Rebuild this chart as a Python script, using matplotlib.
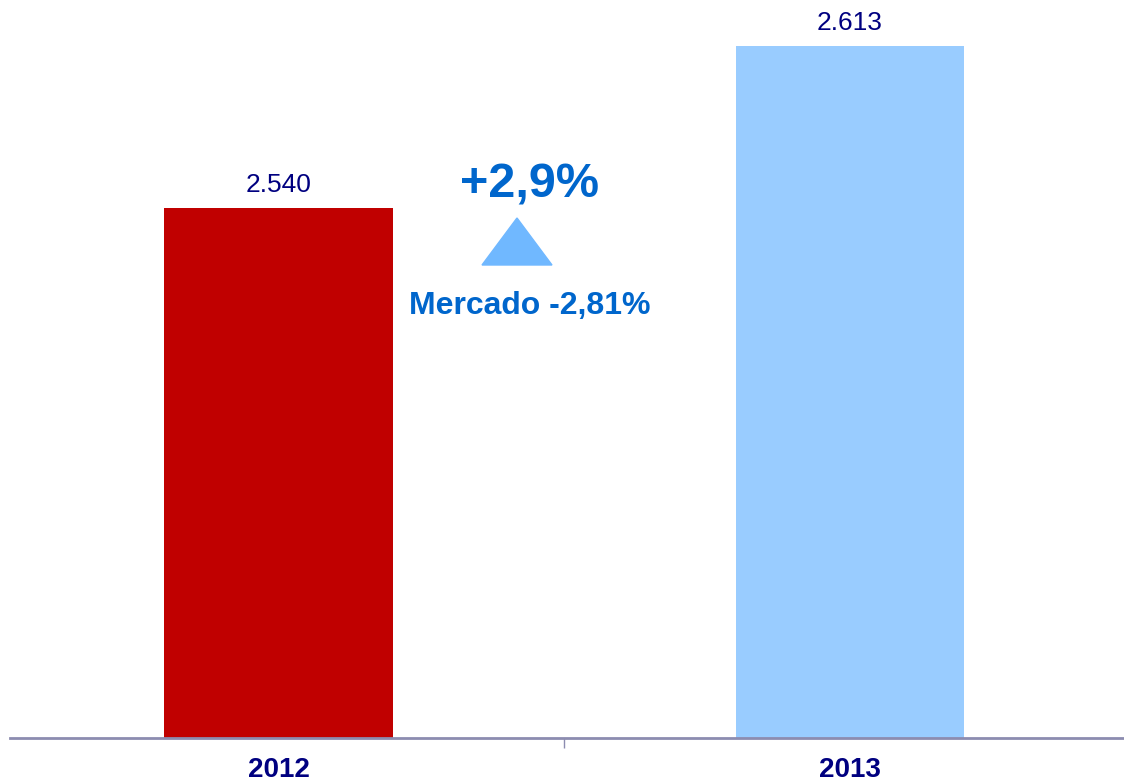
import matplotlib
matplotlib.use('Agg')
import matplotlib.pyplot as plt
from matplotlib.patches import Polygon


# data
years  = ['2012', '2013']
values = [2540, 2613]
growth = '+2,9%'
market = 'Mercado -2,81%'

# colours
bar_colors = ['#C00000', '#99CCFF']
navy       = '#000080'
blue_txt   = '#0066CC'
tri_color  = '#70B8FF'
axis_color = '#8C8CB0'

plt.rcParams['font.family'] = ['Liberation Sans', 'DejaVu Sans']

fig = plt.figure(figsize=(11.24, 7.82), dpi=100)
ax = fig.add_axes([10 / 1124, 44 / 782, 1 - 10 / 1124, 1 - 44 / 782])

pos = list(range(len(years)))
bars = ax.bar(pos, values, width=0.4, color=bar_colors, zorder=2)
ax.bar_label(bars, labels=[f'{v:,}'.replace(',', '.') for v in values],
             padding=8, fontsize=19, color=navy)

ax.set_ylim(2300, 2634)
ax.set_xlim(-0.47, 1.48)

for s in ['top', 'right', 'left']:
    ax.spines[s].set_visible(False)
ax.spines['bottom'].set_color(axis_color)
ax.spines['bottom'].set_linewidth(2)
ax.set_yticks([])

ax.set_xticks(pos)
ax.set_xticklabels(years, fontsize=20, fontweight='bold', color=navy,
                   family=['Liberation Sans Narrow', 'Liberation Sans'])
ax.tick_params(axis='x', which='major', length=0, pad=14)
ax.set_xticks([0.5], minor=True)
ax.tick_params(axis='x', which='minor', length=7, width=1, color=axis_color)

# growth annotation
fig.text(530 / 1124, 1 - 185 / 782, growth, ha='center', va='center',
         fontsize=35, fontweight='bold', color=blue_txt)
tri = Polygon([(482 / 1124, 1 - 265 / 782), (552 / 1124, 1 - 265 / 782),
               (517 / 1124, 1 - 218 / 782)], closed=True,
              transform=fig.transFigure, color=tri_color)
fig.patches.append(tri)
fig.text(530 / 1124, 1 - 306 / 782, market, ha='center', va='center',
         fontsize=23, fontweight='bold', color=blue_txt)

fig.savefig('out.png', dpi=100, facecolor='white')
